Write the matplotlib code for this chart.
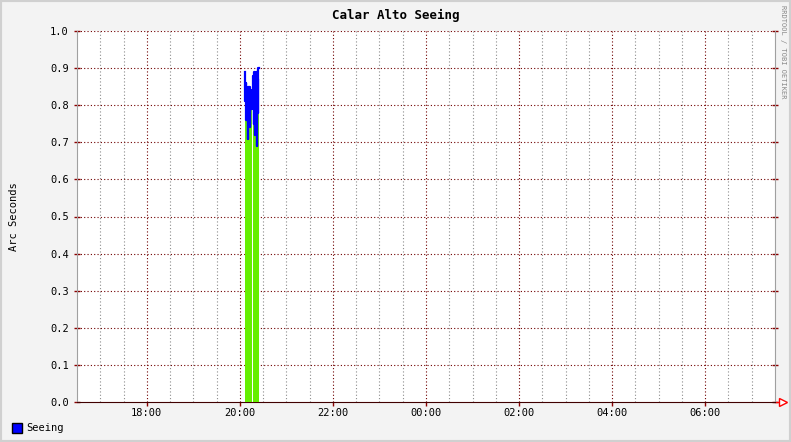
import numpy as np
import matplotlib.pyplot as plt
from matplotlib.patches import Rectangle

# seeing samples, minutes after 20:00 (nan = gap in data)
minutes = [6.5, 7.25, 8.0, 8.75, 9.5, 10.25, 11.0, 11.75, 12.5, 13.25, 14.0, 14.75, 15.5,
           16.1,
           16.75, 17.5, 18.25, 19.0, 19.75, 20.5, 21.25, 22.0, 22.75, 23.5, 24.25]
seeing = [0.89, 0.81, 0.86, 0.76, 0.84, 0.71, 0.85, 0.80, 0.85, 0.74, 0.84, 0.79, 0.81,
          np.nan,
          0.80, 0.88, 0.75, 0.89, 0.72, 0.86, 0.89, 0.69, 0.87, 0.78, 0.90]

x_major = [18, 20, 22, 24, 26, 28, 30]
x_labels = ['18:00', '20:00', '22:00', '00:00', '02:00', '04:00', '06:00']
y_ticks = [0.0, 0.1, 0.2, 0.3, 0.4, 0.5, 0.6, 0.7, 0.8, 0.9, 1.0]

W, H = 791, 442
fig = plt.figure(figsize=(W/100, H/100), dpi=100, facecolor='#f3f3f3')
ax = fig.add_axes([77/W, 1-402/H, (775-77)/W, (402-31)/H])
ax.set_facecolor('white')

mono = 'DejaVu Sans Mono'
hours = 20 + np.array(minutes)/60.0
vals = np.array(seeing)

# green area, blue line on top
ax.fill_between(hours, 0, vals, color='#66ee00', step='mid', linewidth=0, zorder=3)
ax.plot(hours, vals, color='#0000ff', lw=1.6, drawstyle='steps-mid', zorder=4)

ax.set_xlim(16.5, 31.5)
ax.set_ylim(0, 1.0)

# grid like rrdtool
dot = (0, (1, 2))
for h in np.arange(17.0, 31.5, 0.5):
    if h not in x_major:
        ax.axvline(h, color='#8c8c8c', lw=0.8, ls=dot, zorder=1)
for h in x_major:
    ax.axvline(h, color='#700000', lw=0.8, ls=dot, zorder=2)
for y in y_ticks[1:]:
    ax.axhline(y, color='#700000', lw=0.8, ls=dot, zorder=2)

ax.set_xticks(x_major)
ax.set_xticklabels(x_labels, fontfamily=mono, fontsize=7.5)
ax.set_yticks(y_ticks)
ax.set_yticklabels(['%.1f' % v for v in y_ticks], fontfamily=mono, fontsize=7.5)
ax.tick_params(axis='both', colors='#8b0000', length=3, width=1, labelcolor='black')
ax.tick_params(axis='y', right=True, direction='inout', length=5)
ax.tick_params(axis='x', pad=1)

ax.spines['top'].set_visible(False)
ax.spines['left'].set_color('#a0a0a0')
ax.spines['right'].set_color('#a0a0a0')
ax.spines['bottom'].set_color('#400000')

# arrow at end of x axis
ax.plot([1.0, 1.012], [0, 0], color='red', lw=1, transform=ax.transAxes, clip_on=False)
ax.plot([1.012], [0], marker='>', ms=6, mfc='white', mec='red', mew=1,
        transform=ax.transAxes, clip_on=False)

ax.set_ylabel('Arc Seconds', fontfamily=mono, fontsize=7.5, labelpad=22)

fig.text(0.5, 1-15/H, 'Calar Alto Seeing', ha='center', va='center',
         fontfamily=mono, fontsize=9, fontweight='bold')
fig.text(783/W, 1-5/H, 'RRDTOOL / TOBI OETIKER', ha='center', va='top', rotation=-90,
         fontfamily=mono, fontsize=5, color='#888888')

# legend
fig.patches.append(Rectangle((12/W, 1-433/H), 10/W, 10/H, transform=fig.transFigure,
                             facecolor='#0000ff', edgecolor='black', lw=1))
fig.text(26/W, 1-428/H, 'Seeing', ha='left', va='center', fontfamily=mono, fontsize=7.5)

# frame
fig.patches.append(Rectangle((0, 0), 1, 1, transform=fig.transFigure, fill=False,
                             edgecolor='#d0d0d0', lw=3))

fig.savefig('out.png', dpi=100, facecolor=fig.get_facecolor())
